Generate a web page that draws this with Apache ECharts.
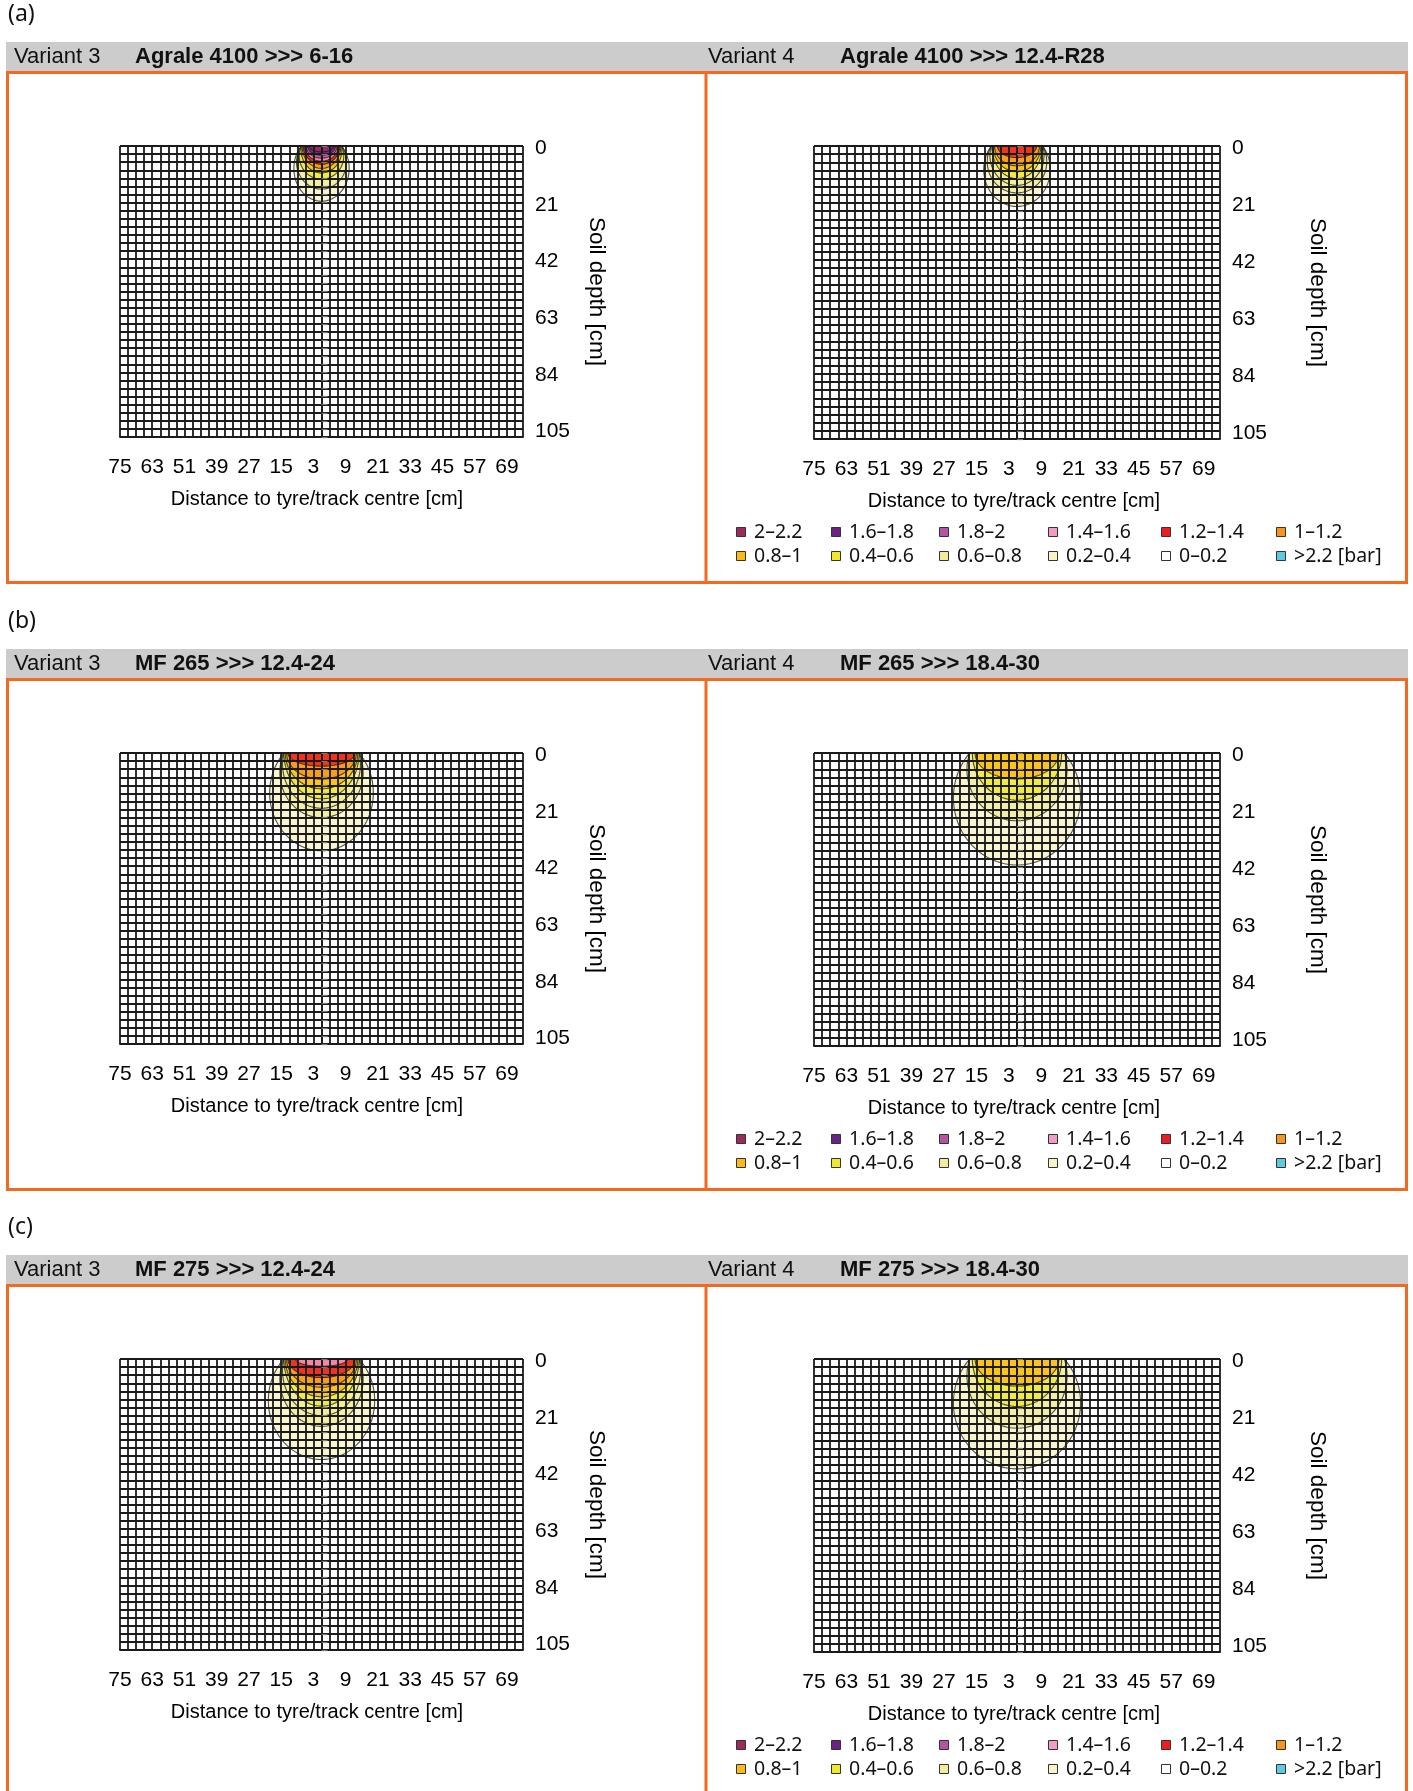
<!DOCTYPE html>
<html>
<head>
<meta charset="utf-8">
<title>Soil stress bulbs</title>
<script src="https://cdn.jsdelivr.net/npm/echarts@6/dist/echarts.min.js"></script>
<style>
  html, body { margin: 0; padding: 0; background: #fff; }
  #chart { width: 1413px; height: 1791px; }
</style>
</head>
<body>
<div id="chart"></div>
<script>
// Pressure classes (legend order) and their fill colours
const pressureClasses = ['2–2.2', '1.6–1.8', '1.8–2', '1.4–1.6', '1.2–1.4', '1–1.2',
                         '0.8–1', '0.4–0.6', '0.6–0.8', '0.2–0.4', '0–0.2', '>2.2 [bar]'];
const classColors = ['#9c2a5f', '#6b2383', '#b553a7', '#f39bc3', '#ec1c24', '#f7941e',
                     '#fcbb14', '#efe92b', '#f2ed9c', '#f6f3c6', '#ffffff', '#5fc9dd'];

// Axis ranges [cm]
const distanceRange = [-75, 75];
const depthRange = [0, 108];
const gridStep = 3;

// Panel headings
const rowLetters = ['(a)', '(b)', '(c)'];
const variantLabels = ['Variant 3', 'Variant 4'];
const machineTitles = [
  ['Agrale 4100 >>> 6-16', 'Agrale 4100 >>> 12.4-R28'],
  ['MF 265 >>> 12.4-24', 'MF 265 >>> 18.4-30'],
  ['MF 275 >>> 12.4-24', 'MF 275 >>> 18.4-30']
];

// Half width of the contact area at the surface [cm], per panel
const contactHalfWidth = [7.5, 9.5, 14, 17.5, 14, 17.5];

// Stress contours: [pressure class, bottom depth cm, max half width cm]
const bulbAgrale616 = [
  ['0.2–0.4', 20.5, 10.3], ['0.6–0.8', 16, 9.3], ['0.4–0.6', 12.3, 8.3],
  ['0.8–1', 10, 7.6], ['1–1.2', 8.3, 7.2], ['1.2–1.4', 6.8, 6.8],
  ['1.4–1.6', 5.6, 6.3], ['1.8–2', 4.5, 5.8], ['1.6–1.8', 3.4, 5.2], ['2–2.2', 2.2, 4.5]
];
const bulbAgrale124R28 = [
  ['0.2–0.4', 22.3, 12.3], ['0.6–0.8', 17.3, 11], ['0.6–0.8', 14.5, 10],
  ['0.4–0.6', 12, 9.3], ['0.8–1', 9.5, 8.8], ['1–1.2', 7.3, 8.3], ['1.2–1.4', 4.3, 7.2]
];
const bulbMF265_12424 = [
  ['0.2–0.4', 36.3, 19.3], ['0.6–0.8', 24, 15.5], ['0.6–0.8', 20.5, 14.5],
  ['0.4–0.6', 17, 14], ['0.8–1', 13.3, 13.5], ['1–1.2', 9.7, 13], ['1.2–1.4', 4.9, 12.5]
];
const bulbMF265_18430 = [
  ['0.2–0.4', 41.3, 23.5], ['0.6–0.8', 25, 18.5], ['0.4–0.6', 17.4, 16.5], ['0.8–1', 9.6, 15.5]
];
const bulbMF275_12424 = [
  ['0.2–0.4', 37.3, 19.8], ['0.6–0.8', 25, 15.5], ['0.6–0.8', 21, 14.5],
  ['0.4–0.6', 17.5, 14], ['0.8–1', 14, 13.5], ['1–1.2', 10.5, 13],
  ['1.2–1.4', 6.9, 12.5], ['1.4–1.6', 2.7, 9.7]
];
const bulbMF275_18430 = [
  ['0.2–0.4', 40.5, 23.5], ['0.6–0.8', 25.5, 18.5], ['0.4–0.6', 17.5, 16.5], ['0.8–1', 10, 15.5]
];
const panelBulbs = [bulbAgrale616, bulbAgrale124R28, bulbMF265_12424,
                    bulbMF265_18430, bulbMF275_12424, bulbMF275_18430];

// ---- layout ----
const rowOffset = [0, 607, 1213];
const gridBoxes = [
  { left: 120, width: 403, top: 146, height: 291, nameGap: 62, namePad: [0, 9, 0, 0] },
  { left: 814, width: 406, top: 146, height: 293, nameGap: 86, namePad: [0, 6, 0, 0] }
];
const legendColX = [736, 831, 939, 1048, 1161, 1276];
const legendRowY = [532, 556];
const orange = '#f26a21';
const fontAxis = "'Liberation Sans', Arial, sans-serif";
const fontHead = "'Liberation Sans', Arial, sans-serif";
const fontNote = "'Noto Sans', 'Open Sans', sans-serif";
const gridLine = { color: '#1a1a1a', width: 1.8 };

function colorOf(cls, alpha) {
  const hex = classColors[pressureClasses.indexOf(cls)];
  const r = parseInt(hex.slice(1, 3), 16), g = parseInt(hex.slice(3, 5), 16), b = parseInt(hex.slice(5, 7), 16);
  return 'rgba(' + r + ',' + g + ',' + b + ',' + alpha + ')';
}

// Contour outline: an ellipse through the contact edges (±a, 0),
// reaching depth D and widening to half width R; cut off at the surface.
function bulbRenderer(rows, a) {
  return function (params, api) {
    const D = api.value(0), R = api.value(1);
    let c, rx = R, ry;
    if (R > a) {
      const k = Math.sqrt(1 - (a * a) / (R * R));
      c = k * D / (1 + k);
      ry = D - c;
    } else {
      c = 0; ry = D;
    }
    const pts = [];
    const n = 96;
    for (let i = 0; i < n; i++) {
      const t = (i / n) * Math.PI * 2;
      const x = rx * Math.cos(t);
      const y = Math.max(0, c + ry * Math.sin(t));
      pts.push(api.coord([x, y]));
    }
    const cls = rows[params.dataIndex][0];
    return {
      type: 'polygon',
      shape: { points: pts },
      style: { fill: colorOf(cls, 0.82), stroke: 'rgba(20,20,20,0.75)', lineWidth: 1.1 }
    };
  };
}

const grids = [], xAxes = [], yAxes = [], series = [];
for (let p = 0; p < 6; p++) {
  const row = Math.floor(p / 2), side = p % 2;
  const g = gridBoxes[side];
  grids.push({ left: g.left, top: g.top + rowOffset[row], width: g.width, height: g.height, show: false });
  xAxes.push({
    gridIndex: p, type: 'value', min: distanceRange[0], max: distanceRange[1], interval: gridStep, z: 5,
    axisLine: { show: true, onZero: false, lineStyle: gridLine },
    axisTick: { show: false },
    splitLine: { show: true, lineStyle: gridLine },
    axisLabel: {
      color: '#000', fontSize: 21, fontFamily: fontAxis, margin: 20, showMaxLabel: false,
      formatter: v => ((v - distanceRange[0]) % 12 === 0 && v < distanceRange[1]) ? String(Math.abs(v)) : ''
    },
    name: 'Distance to tyre/track centre [cm]', nameLocation: 'middle', nameGap: 52,
    nameTextStyle: { color: '#000', fontSize: 20, fontFamily: fontAxis, padding: g.namePad }
  });
  yAxes.push({
    gridIndex: p, type: 'value', position: 'right', inverse: true,
    min: depthRange[0], max: depthRange[1], interval: gridStep, z: 5,
    axisLine: { show: true, lineStyle: gridLine },
    axisTick: { show: true, length: 6, lineStyle: { color: '#777', width: 1.2 } },
    splitLine: { show: true, lineStyle: gridLine },
    axisLabel: {
      margin: 12,
      formatter: v => (v % 21 === 0 && v <= 105) ? '{d|' + v + '}' : '',
      rich: { d: { color: '#000', fontSize: 21, fontFamily: fontAxis, padding: [5, 0, 0, 0] } }
    },
    name: 'Soil depth [cm]', nameLocation: 'middle', nameRotate: -90, nameGap: g.nameGap,
    nameTextStyle: { color: '#000', fontSize: 22.5, fontFamily: fontAxis }
  });
  const rows = panelBulbs[p];
  series.push({
    type: 'custom', xAxisIndex: p, yAxisIndex: p, z: 1, silent: true,
    renderItem: bulbRenderer(rows, contactHalfWidth[p]),
    data: rows.map(r => ({ name: r[0], value: [r[1], r[2]] }))
  });
}

// Frames, headings and colour key
const graphics = [];
for (let r = 0; r < 3; r++) {
  const dy = rowOffset[r];
  graphics.push({ type: 'text', left: 8, top: dy + 3, style: { text: rowLetters[r], font: '23px ' + fontNote, fill: '#111' } });
  graphics.push({ type: 'rect', shape: { x: 6, y: dy + 42, width: 1402, height: 29 }, style: { fill: '#cccccc' } });
  const headX = [[14, 135], [708, 840]];
  for (let s = 0; s < 2; s++) {
    graphics.push({ type: 'text', x: headX[s][0], y: dy + 57,
      style: { text: variantLabels[s], font: '22px ' + fontHead, fill: '#111', verticalAlign: 'middle' } });
    graphics.push({ type: 'text', x: headX[s][1], y: dy + 57,
      style: { text: machineTitles[r][s], font: 'bold 22px ' + fontHead, fill: '#111', verticalAlign: 'middle' } });
  }
  graphics.push({ type: 'rect', shape: { x: 7.5, y: dy + 72.5, width: 1399, height: 510 },
    style: { fill: 'none', stroke: orange, lineWidth: 3 } });
  graphics.push({ type: 'line', shape: { x1: 706, y1: dy + 72, x2: 706, y2: dy + 583 },
    style: { stroke: orange, lineWidth: 3 } });
  for (let i = 0; i < pressureClasses.length; i++) {
    const cx = legendColX[i % 6], cy = dy + legendRowY[Math.floor(i / 6)];
    graphics.push({ type: 'rect', shape: { x: cx + 0.5, y: cy - 4.5, width: 9, height: 9 },
      style: { fill: classColors[i], stroke: '#333', lineWidth: 1 } });
    graphics.push({ type: 'text', x: cx + 18, y: cy,
      style: { text: pressureClasses[i], font: '19.5px ' + fontNote, fill: '#111', verticalAlign: 'middle' } });
  }
}

const chart = echarts.init(document.getElementById('chart'), null, { renderer: 'canvas' });
chart.setOption({
  animation: false,
  backgroundColor: '#fff',
  grid: grids,
  xAxis: xAxes,
  yAxis: yAxes,
  series: series,
  graphic: graphics
});
</script>
</body>
</html>
